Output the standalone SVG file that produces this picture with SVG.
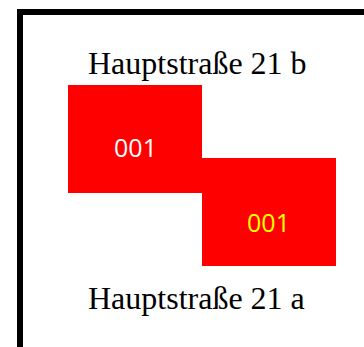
<svg xmlns="http://www.w3.org/2000/svg" width="364" height="347" viewBox="0 0 364 347">
<style>
.lbl{font-family:"Liberation Serif","Times New Roman",serif;font-size:32px;fill:#000}
.box{fill:#ff0000}
.num{font-family:"Open Sans","Noto Sans",sans-serif;font-size:25px;text-anchor:middle}
</style>
<rect x="0" y="0" width="364" height="347" fill="#fff"/>
<rect id="frame" x="20" y="12" width="400" height="400" fill="none" stroke="#000" stroke-width="6"/>
<g id="label-b"><text class="lbl" x="88" y="74">Hauptstraße 21 b</text></g>
<g id="node1"><rect class="box" x="68" y="85" width="134" height="108"/><text class="num" x="135.5" y="157" fill="#fff">001</text></g>
<g id="node2"><rect class="box" x="202" y="158" width="134" height="108"/><text class="num" x="268.5" y="232" fill="#ffff00">001</text></g>
<g id="label-a"><text class="lbl" x="88" y="309">Hauptstraße 21 a</text></g>
<g id="connectors"></g>
</svg>
